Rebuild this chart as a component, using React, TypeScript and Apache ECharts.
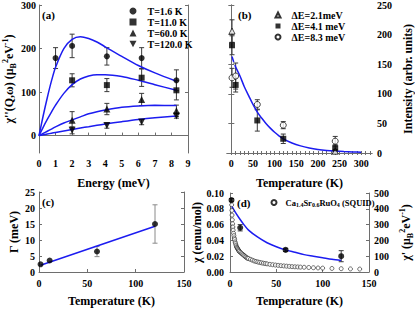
import React, { useEffect, useRef } from 'react';
import * as echarts from 'echarts';

const FONT = '"Liberation Serif", "Times New Roman", serif';
const BLUE = '#1c1cf0';
const AXIS = '#6e6e6e';
const ERR = '#3a3a3a';

// ---------- panel (a) ----------
const energyT16 = [1.0, 2.0, 4.1, 6.2, 8.3];
const chiT16 = [178, 206, 182, 178, 127];
const errT16 = [24, 27, 20, 24, 24];
const energyHi = [2.0, 4.1, 6.2, 8.3];
const chiT11 = [127, 116, 133, 104];
const errT11 = [15, 15, 20, 22];
const chiT60 = [35, 61, 83, 57];
const errT60 = [20, 13, 14, 13];
const chiT120 = [12, 23, 31, 45];
const errT120 = [8, 6, 6, 5];
const fitEnergy = [0, 0.25, 0.5, 0.75, 1, 1.5, 2, 2.5, 3, 3.5, 4, 5, 6, 7, 8.3];
const fitT16 = [0, 45, 87, 125, 157, 200, 221, 227, 223, 215, 204, 182, 161, 144, 125];
const fitT11 = [0, 19, 37, 54, 70, 97, 117, 130, 137, 140, 140, 136, 127, 117, 104];
const fitT60 = [0, 5, 10, 15, 20, 29, 36, 43, 50, 55, 59, 65, 68, 69.5, 69];
const fitT120 = [0, 1.8, 3.6, 5.4, 7.2, 10.7, 14, 17.4, 20.5, 23.6, 26.6, 32, 37, 41, 45];
const energyTicks = [0, 1, 2, 3, 4, 5, 6, 7, 8, 9];
const chiTicks = [0, 100, 200, 300];

// ---------- panel (b) ----------
const tempE21 = [1.6, 240];
const intE21 = [206, 3];
const errE21 = [19, 3];
const tempE41 = [1.6, 10, 60, 120, 240];
const intE41 = [182, 115, 55, 24, 8];
const errE41 = [16, 12, 18, 8, 6];
const tempE83 = [1.6, 10, 60, 120, 240];
const intE83 = [127, 130, 82, 47, 20];
const errE83 = [16, 22, 8, 6, 8];
const fitTempDash = [1.6, 5, 10];
const fitIntDash = [163, 155, 145];
const fitTemp = [10, 20, 30, 40, 50, 60, 70, 80, 90, 100, 110, 120, 140, 160, 180, 200, 220, 240, 260, 280, 300];
const fitInt = [145, 130, 112, 97, 82, 69, 59, 50, 42, 35, 29, 24, 17, 12, 8.5, 6, 4.3, 3.2, 2.4, 1.8, 1.4];
const tempLabelsB = [0, 50, 100, 150, 200, 250, 300];
const tempTicksB = [0, 10, 20, 30, 40, 50, 60, 70, 80, 90, 100, 110, 120, 130, 140, 150, 160, 170, 180, 190, 200, 210, 220, 230, 240, 250, 260, 270, 280, 290, 300, 310, 320];

// ---------- panel (c) ----------
const tempC = [1.6, 11, 60, 120];
const gammaC = [2.4, 3.6, 6.4, 15.0];
const gammaErr = [0, 0, 1.6, 6];
const gammaFitT = [1.6, 120];
const gammaFit = [2.1, 14.3];

// ---------- panel (d) ----------
const tempD = [1.6, 11, 60, 120];
const chiD = [0.091, 0.056, 0.028, 0.020];
const chiDErr = [0.002, 0.004, 0.002, 0.007];
const fitTempD = [1.6, 5, 10, 15, 20, 30, 40, 50, 60, 70, 80, 90, 100, 110, 120];
const fitChiD = [0.084, 0.077, 0.068, 0.060, 0.053, 0.044, 0.037, 0.032, 0.028, 0.025, 0.022, 0.020, 0.018, 0.016, 0.0145];
const squidT = [1.8, 2.0, 2.2, 2.5, 2.8, 3.1, 3.4, 3.8, 4.2, 4.6, 5.0, 5.5, 6.0, 6.5, 7, 7.5, 8, 8.5, 9, 9.5, 10, 11, 12, 13, 14, 15, 16, 17, 18, 19, 20, 22, 24, 26, 28, 30, 32, 34, 36, 38, 40, 43, 46, 49, 52, 55, 58, 61, 64, 67, 70, 73, 76, 80, 85, 90, 95, 100, 110, 120, 130, 140];
const squidChi = [0.085, 0.078, 0.072, 0.066, 0.061, 0.057, 0.053, 0.049, 0.046, 0.043, 0.041, 0.038, 0.036, 0.034, 0.032, 0.031, 0.030, 0.029, 0.028, 0.027, 0.026, 0.025, 0.024, 0.023, 0.022, 0.021, 0.020, 0.019, 0.018, 0.0175, 0.017, 0.016, 0.015, 0.014, 0.0133, 0.0127, 0.0121, 0.0116, 0.0111, 0.0107, 0.0103, 0.0097, 0.0092, 0.0088, 0.0084, 0.0080, 0.0077, 0.0074, 0.0071, 0.0068, 0.0066, 0.0064, 0.0062, 0.0060, 0.0057, 0.0054, 0.0051, 0.0049, 0.0045, 0.0042, 0.0039, 0.0037];

const pairs = (xs: number[], ys: number[]) => xs.map((x, i) => [x, ys[i]]);
const bars = (xs: number[], ys: number[], es: number[]) =>
  xs.map((x, i) => [x, ys[i] - es[i], ys[i] + es[i], es[i]]).filter((d) => d[3] > 0);

const lbl = { fontFamily: FONT, fontWeight: 'bold' as const, fontSize: 10, color: '#000' };
const nameStyle = { fontFamily: FONT, fontWeight: 'bold' as const, fontSize: 12, color: '#000' };
const richName = {
  n: { fontFamily: FONT, fontWeight: 'bold', fontSize: 12, lineHeight: 16, color: '#000' },
  b: { fontFamily: FONT, fontWeight: 'bold', fontSize: 8, lineHeight: 8, verticalAlign: 'bottom', color: '#000' },
  p: { fontFamily: FONT, fontWeight: 'bold', fontSize: 8, lineHeight: 8, verticalAlign: 'top', color: '#000' },
};
const axLine = { show: true, lineStyle: { color: AXIS, width: 1 } };
const INV_TRI = 'path://M0,0 L10,0 L5,9 Z';

function errSeries(data: number[][], xi: number, yi: number, color = ERR) {
  return {
    type: 'custom',
    xAxisIndex: xi,
    yAxisIndex: yi,
    data,
    z: 2,
    silent: true,
    encode: { x: 0, y: [1, 2] },
    renderItem: (_p: any, api: any) => {
      const x = api.value(0);
      const a = api.coord([x, api.value(1)]);
      const b = api.coord([x, api.value(2)]);
      const w = 2.5;
      const style = { stroke: color, lineWidth: 1 };
      return {
        type: 'group',
        children: [
          { type: 'line', shape: { x1: a[0], y1: a[1], x2: b[0], y2: b[1] }, style },
          { type: 'line', shape: { x1: a[0] - w, y1: a[1], x2: a[0] + w, y2: a[1] }, style },
          { type: 'line', shape: { x1: b[0] - w, y1: b[1], x2: b[0] + w, y2: b[1] }, style },
        ],
      };
    },
  };
}

function sc(name: string, data: number[][], xi: number, yi: number, symbol: string, size: number, extra: any = {}) {
  return {
    type: 'scatter',
    name,
    data,
    xAxisIndex: xi,
    yAxisIndex: yi,
    symbol,
    symbolSize: size,
    itemStyle: { color: '#000' },
    z: 3,
    silent: true,
    ...extra,
  };
}

function ln(data: number[][], xi: number, yi: number, dashed = false) {
  return {
    type: 'line',
    data,
    xAxisIndex: xi,
    yAxisIndex: yi,
    showSymbol: false,
    symbol: 'none',
    smooth: 0.3,
    silent: true,
    lineStyle: { color: BLUE, width: 1.5, type: dashed ? 'dashed' : 'solid' },
    z: 2,
  };
}

const open = { itemStyle: { color: '#fff', borderColor: '#000', borderWidth: 0.9 } };

export default function App() {
  const ref = useRef<HTMLDivElement>(null);
  useEffect(() => {
    document.body.style.margin = '0';
    const chart = echarts.init(ref.current!, undefined, { renderer: 'svg' });
    const option: any = {
      animation: false,
      backgroundColor: '#fff',
      grid: [
        { left: 39, top: 4, width: 149, height: 149 },
        { left: 227, top: 4, width: 146, height: 149 },
        { left: 39, top: 192, width: 145, height: 80 },
        { left: 230, top: 193, width: 142, height: 79 },
      ],
      xAxis: [
        {
          gridIndex: 0, type: 'value', min: 0, max: 9, position: 'bottom',
          axisLine: axLine, splitLine: { show: false },
          axisTick: { inside: true, length: 3, customValues: energyTicks, lineStyle: { color: AXIS } },
          axisLabel: { ...lbl, margin: 5, customValues: energyTicks },
          name: 'Energy (meV)', nameLocation: 'middle', nameGap: 24, nameTextStyle: nameStyle,
        },
        {
          gridIndex: 1, type: 'value', min: -10, max: 325, position: 'bottom',
          axisLine: axLine, splitLine: { show: false },
          axisTick: { inside: true, length: 2, customValues: tempTicksB, lineStyle: { color: AXIS } },
          axisLabel: { ...lbl, margin: 5, customValues: tempLabelsB },
          name: 'Temperature (K)', nameLocation: 'middle', nameGap: 24, nameTextStyle: nameStyle,
        },
        {
          gridIndex: 1, type: 'value', min: -10, max: 325, position: 'top',
          axisLine: axLine, splitLine: { show: false },
          axisTick: { inside: true, length: 2, customValues: tempTicksB, lineStyle: { color: AXIS } },
          axisLabel: { show: false },
        },
        {
          gridIndex: 2, type: 'value', min: 0, max: 150, interval: 50, position: 'bottom',
          axisLine: axLine, splitLine: { show: false },
          axisTick: { inside: true, length: 3, lineStyle: { color: AXIS } },
          axisLabel: { ...lbl, margin: 6 },
          name: 'Temperature (K)', nameLocation: 'middle', nameGap: 23, nameTextStyle: nameStyle,
        },
        {
          gridIndex: 3, type: 'value', min: 0, max: 150, interval: 50, position: 'bottom',
          axisLine: axLine, splitLine: { show: false },
          axisTick: { inside: true, length: 3, lineStyle: { color: AXIS } },
          axisLabel: { ...lbl, margin: 6 },
          name: 'Temperature (K)', nameLocation: 'middle', nameGap: 23, nameTextStyle: nameStyle,
        },
      ],
      yAxis: [
        {
          gridIndex: 0, type: 'value', min: -40, max: 300, position: 'left',
          axisLine: axLine, splitLine: { show: false },
          axisTick: { inside: true, length: 3, customValues: chiTicks, lineStyle: { color: AXIS } },
          axisLabel: { ...lbl, margin: 3, customValues: chiTicks },
          name: "{n|χ''(Q,ω) (μ}{b|B}{p|2}{n|eV}{p|-1}{n|)}",
          nameLocation: 'middle', nameGap: 19,
          nameTextStyle: { ...nameStyle, rich: richName },
        },
        {
          gridIndex: 0, type: 'value', min: -40, max: 300, position: 'right',
          axisLine: axLine, splitLine: { show: false },
          axisTick: { inside: true, length: 3, customValues: chiTicks, lineStyle: { color: AXIS } },
          axisLabel: { show: false },
        },
        {
          gridIndex: 1, type: 'value', min: 0, max: 250, interval: 50, position: 'right',
          axisLine: axLine, splitLine: { show: false },
          axisTick: { inside: true, length: 3, lineStyle: { color: AXIS } },
          axisLabel: { ...lbl, margin: 5 },
          name: 'Intensity (arbr. units)', nameLocation: 'middle', nameGap: 30, nameTextStyle: nameStyle,
        },
        {
          gridIndex: 1, type: 'value', min: 0, max: 250, interval: 50, position: 'left',
          axisLine: axLine, splitLine: { show: false },
          axisTick: { inside: true, length: 3, lineStyle: { color: AXIS } },
          axisLabel: { show: false },
        },
        {
          gridIndex: 2, type: 'value', min: 0, max: 25, interval: 5, position: 'left',
          axisLine: axLine, splitLine: { show: false },
          axisTick: { inside: true, length: 3, lineStyle: { color: AXIS } },
          axisLabel: { ...lbl, margin: 4 },
          name: 'Γ (meV)', nameLocation: 'middle', nameGap: 19, nameTextStyle: nameStyle,
        },
        {
          gridIndex: 2, type: 'value', min: 0, max: 25, interval: 5, position: 'right',
          axisLine: axLine, splitLine: { show: false },
          axisTick: { inside: true, length: 3, lineStyle: { color: AXIS } },
          axisLabel: { show: false },
        },
        {
          gridIndex: 3, type: 'value', min: 0, max: 0.1, interval: 0.02, position: 'left',
          axisLine: axLine, splitLine: { show: false },
          axisTick: { inside: true, length: 3, lineStyle: { color: AXIS } },
          axisLabel: { ...lbl, margin: 6, formatter: (v: number) => v.toFixed(2) },
          name: 'χ (emu/mol)', nameLocation: 'middle', nameGap: 27, nameTextStyle: nameStyle,
        },
        {
          gridIndex: 3, type: 'value', min: 0, max: 500, interval: 100, position: 'right',
          axisLine: axLine, splitLine: { show: false },
          axisTick: { inside: true, length: 3, lineStyle: { color: AXIS } },
          axisLabel: { ...lbl, margin: 5 },
          name: "{n|χ' (μ}{b|B}{p|2}{n|eV}{p|-1}{n|)}",
          nameLocation: 'middle', nameGap: 29,
          nameTextStyle: { ...nameStyle, rich: richName },
        },
      ],
      legend: [
        {
          data: [
            { name: 'T=1.6 K', icon: 'circle' },
            { name: 'T=11.0 K', icon: 'rect' },
            { name: 'T=60.0 K', icon: 'triangle' },
            { name: 'T=120.0 K', icon: INV_TRI },
          ],
          left: 129.5, top: 6, orient: 'vertical', padding: 0, itemGap: 1,
          itemWidth: 7, itemHeight: 7, selectedMode: false, symbolKeepAspect: true,
          textStyle: { ...lbl, padding: [0, 0, 0, 6] },
        },
        {
          data: [
            { name: 'ΔE=2.1meV', icon: 'triangle' },
            { name: 'ΔE=4.1 meV', icon: 'rect' },
            { name: 'ΔE=8.3 meV', icon: 'circle' },
          ],
          left: 274.5, top: 10, orient: 'vertical', padding: 0, itemGap: 1,
          itemWidth: 5, itemHeight: 5, selectedMode: false, symbolKeepAspect: true,
          textStyle: { ...lbl, padding: [0, 0, 0, 6] },
        },
        {
          data: [{ name: 'Ca1.4Sr0.6RuO4 (SQUID)', icon: 'circle' }],
          left: 270.5, top: 198, orient: 'vertical', padding: 0,
          itemWidth: 5, itemHeight: 5, selectedMode: false,
          formatter: () => '{n|Ca}{s|1.4}{n|Sr}{s|0.6}{n|RuO}{s|4}{n| (SQUID)}',
          textStyle: {
            ...lbl,
            padding: [0, 0, 0, 4],
            rich: {
              n: { fontFamily: FONT, fontWeight: 'bold', fontSize: 8.5, lineHeight: 11, color: '#000' },
              s: { fontFamily: FONT, fontWeight: 'bold', fontSize: 6, lineHeight: 6, verticalAlign: 'bottom', color: '#000' },
            },
          },
        },
      ],
      graphic: [
        { type: 'text', left: 42, top: 9, style: { text: '(a)', font: `bold 11px ${FONT}`, fill: '#000' } },
        { type: 'text', left: 238, top: 9, style: { text: '(b)', font: `bold 11px ${FONT}`, fill: '#000' } },
        { type: 'text', left: 42, top: 196, style: { text: '(c)', font: `bold 11px ${FONT}`, fill: '#000' } },
        { type: 'text', left: 237, top: 197, style: { text: '(d)', font: `bold 11px ${FONT}`, fill: '#000' } },
      ],
      series: [
        // (a)
        errSeries([
          ...bars(energyT16, chiT16, errT16),
          ...bars(energyHi, chiT11, errT11),
          ...bars(energyHi, chiT60, errT60),
          ...bars(energyHi, chiT120, errT120),
        ], 0, 0),
        ln(pairs(fitEnergy, fitT16), 0, 0),
        ln(pairs(fitEnergy, fitT11), 0, 0),
        ln(pairs(fitEnergy, fitT60), 0, 0),
        ln(pairs(fitEnergy, fitT120), 0, 0),
        sc('T=1.6 K', pairs(energyT16, chiT16), 0, 0, 'circle', 6),
        sc('T=11.0 K', pairs(energyHi, chiT11), 0, 0, 'rect', 6),
        sc('T=60.0 K', pairs(energyHi, chiT60), 0, 0, 'triangle', 7),
        sc('T=120.0 K', pairs(energyHi, chiT120), 0, 0, 'triangle', 7, { symbolRotate: 180 }),
        // (b)
        errSeries([
          ...bars(tempE21, intE21, errE21),
          ...bars(tempE41, intE41, errE41),
          ...bars(tempE83, intE83, errE83),
        ], 1, 2),
        ln(pairs(fitTempDash, fitIntDash), 1, 2, true),
        ln(pairs(fitTemp, fitInt), 1, 2),
        sc('ΔE=2.1meV', pairs(tempE21, intE21), 1, 2, 'triangle', 6, open),
        sc('ΔE=4.1 meV', pairs(tempE41, intE41), 1, 2, 'rect', 6),
        sc('ΔE=8.3 meV', pairs(tempE83, intE83), 1, 2, 'circle', 6, open),
        // (c)
        errSeries(bars(tempC, gammaC, gammaErr), 3, 4, '#8a8a8a'),
        ln(pairs(gammaFitT, gammaFit), 3, 4),
        sc('Gamma', pairs(tempC, gammaC), 3, 4, 'circle', 6),
        // (d)
        sc('Ca1.4Sr0.6RuO4 (SQUID)', pairs(squidT, squidChi), 4, 6, 'circle', 4,
          { itemStyle: { color: '#fff', borderColor: '#000', borderWidth: 0.7 } }),
        errSeries(bars(tempD, chiD, chiDErr), 4, 6),
        ln(pairs(fitTempD, fitChiD), 4, 6),
        sc('chi', pairs(tempD, chiD), 4, 6, 'circle', 6),
      ],
    };
    chart.setOption(option);
    return () => chart.dispose();
  }, []);
  return (
    <div
      ref={ref}
      style={{ position: 'fixed', left: 0, top: 0, width: 415, height: 309, background: '#fff' }}
    />
  );
}
